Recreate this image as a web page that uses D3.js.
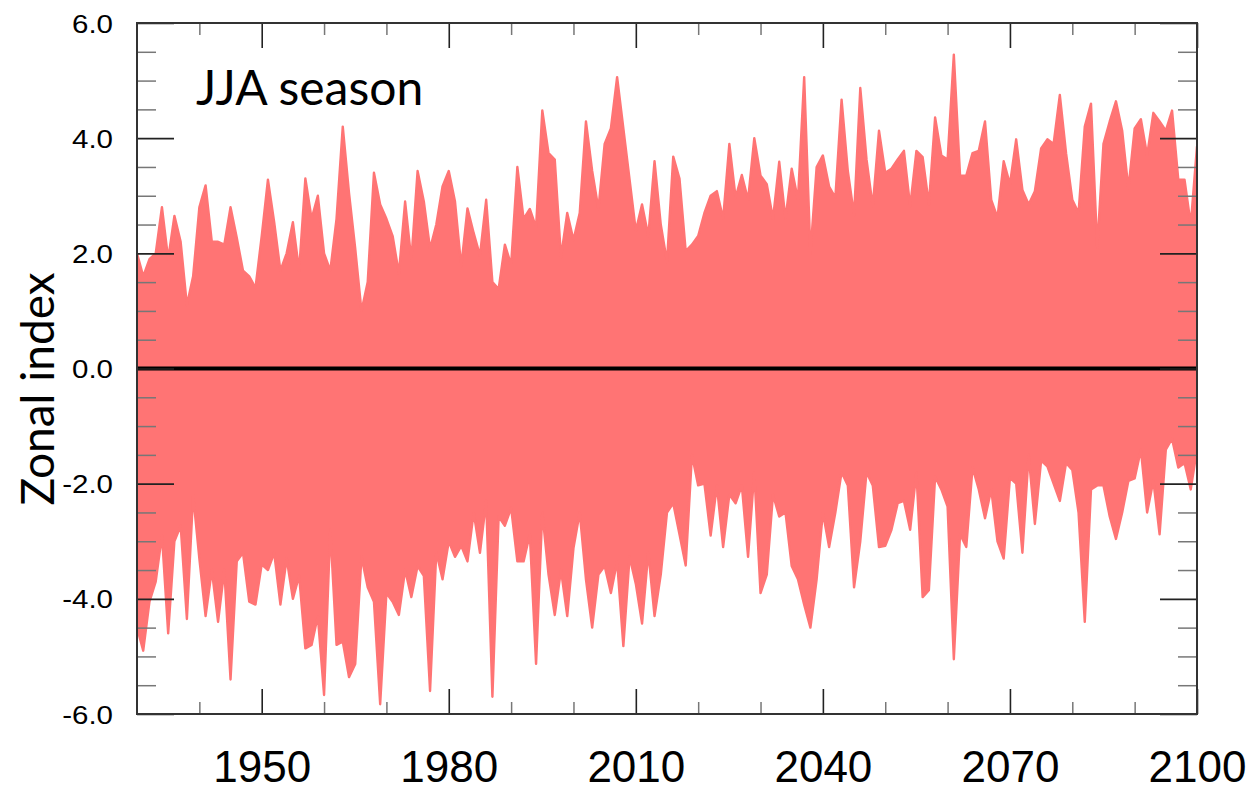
<!DOCTYPE html>
<html>
<head>
<meta charset="utf-8">
<script src="https://cdn.jsdelivr.net/npm/d3@7"></script>
<style>
  html, body { margin: 0; padding: 0; background: #ffffff; }
  svg { display: block; }
</style>
</head>
<body>
<svg id="chart" width="1255" height="790"></svg>
<script>
// ---------------- DATA ----------------
const firstYear = 1930;
// upper envelope of the ensemble (max across members), one value per year 1930..2100
const upperEnvelope = [
  2.0, 1.6, 1.9, 2.0, 2.8, 1.9, 2.65, 2.2, 1.1, 1.6,
  2.8, 3.18, 2.2, 2.2, 2.15, 2.8, 2.27, 1.7, 1.6, 1.4,
  2.3, 3.28, 2.54, 1.7, 2.0, 2.54, 1.7, 3.3, 2.6, 3.0,
  2.0, 1.7, 2.6, 4.2, 3.05, 2.08, 1.0, 1.5, 3.4, 2.85,
  2.6, 2.3, 1.65, 2.9, 1.88, 3.43, 2.9, 2.08, 2.5, 3.16,
  3.43, 2.9, 1.77, 2.78, 2.35, 1.96, 2.93, 1.5, 1.38, 2.15,
  1.8, 3.5, 2.6, 2.77, 2.45, 4.48, 3.74, 3.63, 1.93, 2.7,
  2.23, 2.7, 4.29, 3.43, 2.77, 3.9, 4.17, 5.06, 4.17, 3.28,
  2.39, 2.85, 2.3, 3.6, 2.5, 1.85, 3.68, 3.3, 2.04, 2.15,
  2.3, 2.7, 3.0, 3.08, 2.6, 3.9, 2.97, 3.36, 2.93, 4.0,
  3.35, 3.2, 2.6, 3.59, 2.6, 3.47, 2.93, 5.06, 2.0, 3.5,
  3.7, 3.16, 2.97, 4.67, 3.43, 2.66, 4.87, 3.63, 2.81, 4.13,
  3.4, 3.47, 3.63, 3.78, 2.81, 3.78, 3.67, 2.85, 4.36, 3.7,
  3.63, 5.45, 3.35, 3.35, 3.74, 3.78, 4.29, 2.93, 2.62, 3.6,
  3.2, 3.98, 3.1, 2.85, 3.08, 3.82, 3.98, 3.9, 4.75, 3.74,
  2.93, 2.7, 4.2, 4.6, 2.1, 3.9, 4.29, 4.64, 4.13, 3.12,
  4.17, 4.33, 3.7, 4.44, 4.29, 4.13, 4.48, 3.28, 3.28, 2.5,
  3.86
];
// lower envelope of the ensemble (min across members), one value per year 1930..2100
const lowerEnvelope = [
  -4.5, -4.9, -4.05, -3.7, -2.9, -4.6, -3.0, -2.73, -4.35, -2.2,
  -3.3, -4.3, -3.5, -4.4, -3.5, -5.4, -3.35, -3.2, -4.05, -4.1,
  -3.4, -3.5, -3.2, -4.1, -3.3, -4.0, -3.6, -4.86, -4.8, -4.3,
  -5.67, -2.8, -4.8, -4.74, -5.36, -5.13, -3.27, -3.8, -4.05, -5.83,
  -3.9, -4.05, -4.28, -3.5, -3.97, -3.43, -3.6, -5.6, -3.19, -3.66,
  -3.0, -3.27, -3.08, -3.35, -2.5, -3.2, -2.3, -5.7, -2.57, -2.73,
  -2.42, -3.35, -3.35, -2.88, -5.13, -2.5, -3.58, -4.28, -3.5, -4.3,
  -3.12, -2.5, -3.66, -4.5, -3.58, -3.43, -3.9, -3.35, -4.82, -3.27,
  -3.74, -4.43, -3.19, -4.3, -3.58, -2.5, -2.34, -2.88, -3.42, -1.5,
  -2.03, -2.0, -2.9, -2.03, -3.1, -2.19, -2.34, -2.03, -3.27, -1.8,
  -3.9, -3.58, -2.19, -2.57, -2.5, -3.43, -3.66, -4.1, -4.5, -3.66,
  -2.5, -3.1, -2.5, -1.8, -2.03, -3.8, -3.0, -1.8, -2.03, -3.1,
  -3.08, -2.8, -2.34, -2.3, -2.8, -1.8, -3.97, -3.85, -1.88, -2.1,
  -2.4, -5.05, -2.88, -3.1, -1.72, -2.1, -2.6, -2.1, -3.0, -3.3,
  -1.9, -2.0, -3.2, -1.5, -2.7, -1.6, -1.7, -2.0, -2.3, -1.64,
  -1.76, -2.5, -4.4, -2.1, -2.03, -2.03, -2.57, -2.96, -2.5, -1.95,
  -1.91, -1.41, -2.5, -1.95, -2.88, -1.41, -1.22, -1.72, -1.64, -2.1,
  -1.4
];
const xMajorTicks = [1950, 1980, 2010, 2040, 2070, 2100];
const xMinorTicks = [1940, 1960, 1970, 1990, 2000, 2020, 2030, 2050, 2060, 2080, 2090];
const yMajorTicks = [-6, -4, -2, 0, 2, 4, 6];
const yTickLabels = ["-6.0", "-4.0", "-2.0", "0.0", "2.0", "4.0", "6.0"];
const yMinorTicks = [-5.5, -5, -4.5, -3.5, -3, -2.5, -1.5, -1, -0.5, 0.5, 1, 1.5, 2.5, 3, 3.5, 4.5, 5, 5.5];
const titleText = "JJA season";
const yLabelText = "Zonal index";

// ---------------- CHART ----------------
const years = upperEnvelope.map((_, i) => firstYear + i);
const data = years.map((yr, i) => ({ year: yr, hi: upperEnvelope[i], lo: lowerEnvelope[i] }));

const svg = d3.select("#chart");
const L = 137, R = 1197, T = 23, B = 714;
const x = d3.scaleLinear().domain([1930, 2100]).range([L, R]);
const y = d3.scaleLinear().domain([-6, 6]).range([B, T]);

const lineColor = "#ff7474";

const plot = svg.append("g");
plot.append("clipPath").attr("id", "clip")
  .append("rect").attr("x", L).attr("y", T).attr("width", R - L).attr("height", B - T);
const g = plot.append("g").attr("clip-path", "url(#clip)");

g.append("path").datum(data)
  .attr("fill", lineColor)
  .attr("d", d3.area().x(d => x(d.year)).y0(d => y(d.lo)).y1(d => y(d.hi)));

const hiLine = d3.line().x(d => x(d.year)).y(d => y(d.hi));
const loLine = d3.line().x(d => x(d.year)).y(d => y(d.lo));
g.append("path").datum(data).attr("fill", "none").attr("stroke", lineColor)
  .attr("stroke-width", 2.4).attr("stroke-linejoin", "round").attr("d", hiLine);
g.append("path").datum(data).attr("fill", "none").attr("stroke", lineColor)
  .attr("stroke-width", 2.4).attr("stroke-linejoin", "round").attr("d", loLine);

// zero line
g.append("line").attr("x1", L).attr("x2", R).attr("y1", y(0)).attr("y2", y(0))
  .attr("stroke", "#000").attr("stroke-width", 4);

// ---------------- AXES ----------------
function styleAxis(sel, color, w) {
  sel.select(".domain").remove();
  sel.selectAll(".tick line").attr("stroke", color).attr("stroke-width", w);
}
const majC = "#222", minC = "#777";
// bottom
const bMaj = svg.append("g").attr("transform", `translate(0,${B})`)
  .call(d3.axisBottom(x).tickValues(xMajorTicks).tickSizeInner(-25).tickSizeOuter(0).tickFormat(d3.format("d")));
styleAxis(bMaj, majC, 1.6);
bMaj.selectAll(".tick text").attr("y", 68).attr("dy", 0)
  .attr("fill", "#000").style("font-family", "'Liberation Sans', Arial, sans-serif").style("font-size", "44px");
const bMin = svg.append("g").attr("transform", `translate(0,${B})`)
  .call(d3.axisBottom(x).tickValues(xMinorTicks).tickSizeInner(-12).tickSizeOuter(0).tickFormat(""));
styleAxis(bMin, minC, 1.5);
// top
const tMaj = svg.append("g").attr("transform", `translate(0,${T})`)
  .call(d3.axisTop(x).tickValues(xMajorTicks).tickSizeInner(-25).tickSizeOuter(0).tickFormat(""));
styleAxis(tMaj, majC, 1.6);
const tMin = svg.append("g").attr("transform", `translate(0,${T})`)
  .call(d3.axisTop(x).tickValues(xMinorTicks).tickSizeInner(-12).tickSizeOuter(0).tickFormat(""));
styleAxis(tMin, minC, 1.5);
// left
const ySX = 1.18;
const lMaj = svg.append("g").attr("transform", `translate(${L},0)`)
  .call(d3.axisLeft(y).tickValues(yMajorTicks).tickSizeInner(-37).tickSizeOuter(0)
    .tickFormat((d, i) => yTickLabels[i]));
styleAxis(lMaj, majC, 1.6);
lMaj.selectAll(".tick text").attr("x", -24 / ySX).attr("dy", "0.36em")
  .attr("transform", `scale(${ySX},1)`).attr("fill", "#000")
  .style("font-family", "'Liberation Sans', Arial, sans-serif").style("font-size", "25px");
const lMin = svg.append("g").attr("transform", `translate(${L},0)`)
  .call(d3.axisLeft(y).tickValues(yMinorTicks).tickSizeInner(-19).tickSizeOuter(0).tickFormat(""));
styleAxis(lMin, minC, 1.5);
// right
const rMaj = svg.append("g").attr("transform", `translate(${R},0)`)
  .call(d3.axisRight(y).tickValues(yMajorTicks).tickSizeInner(-37).tickSizeOuter(0).tickFormat(""));
styleAxis(rMaj, majC, 1.6);
const rMin = svg.append("g").attr("transform", `translate(${R},0)`)
  .call(d3.axisRight(y).tickValues(yMinorTicks).tickSizeInner(-19).tickSizeOuter(0).tickFormat(""));
styleAxis(rMin, minC, 1.5);

// frame
svg.append("rect").attr("x", L).attr("y", T).attr("width", R - L).attr("height", B - T)
  .attr("fill", "none").attr("stroke", "#333").attr("stroke-width", 2);

// title inside plot
svg.append("text").attr("x", 196).attr("y", 105).text(titleText)
  .style("font-family", "Lato, 'Open Sans', sans-serif").style("font-size", "48px").attr("fill", "#000");

// y label
svg.append("text").attr("transform", `translate(54,389) rotate(-90)`).attr("text-anchor", "middle")
  .text(yLabelText)
  .style("font-family", "Lato, 'Open Sans', sans-serif").style("font-size", "46px").attr("fill", "#000");
</script>
</body>
</html>
